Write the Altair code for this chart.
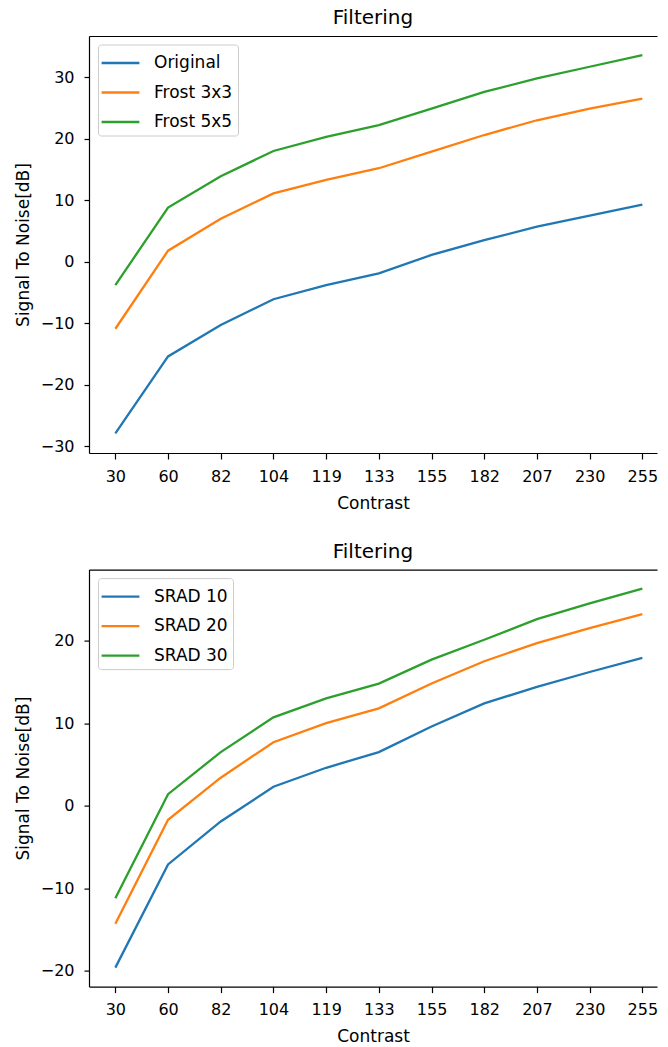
import altair as alt
import pandas as pd

contrast = [30, 60, 82, 104, 119, 133, 155, 182, 207, 230, 255]

# top panel
top_names = ["Original", "Frost 3x3", "Frost 5x5"]
original = [-27.9, -15.4, -10.3, -6.1, -3.8, -1.9, 1.1, 3.5, 5.7, 7.5, 9.3]
frost3 = [-10.9, 1.8, 7.0, 11.1, 13.3, 15.2, 17.9, 20.6, 23.0, 24.9, 26.5]
frost5 = [-3.8, 8.8, 13.9, 18.0, 20.3, 22.2, 24.9, 27.6, 29.8, 31.7, 33.6]

# bottom panel
bottom_names = ["SRAD 10", "SRAD 20", "SRAD 30"]
srad10 = [-19.6, -7.1, -1.9, 2.3, 4.6, 6.5, 9.6, 12.4, 14.4, 16.2, 17.9]
srad20 = [-14.3, -1.7, 3.4, 7.7, 10.0, 11.8, 14.8, 17.5, 19.7, 21.5, 23.2]
srad30 = [-11.2, 1.4, 6.5, 10.7, 13.0, 14.8, 17.7, 20.1, 22.6, 24.5, 26.3]

colors = ["#1f77b4", "#ff7f0e", "#2ca02c"]
top_ticks = [-30, -20, -10, 0, 10, 20, 30]
bottom_ticks = [-20, -10, 0, 10, 20]

FONT = "DejaVu Sans"
PLOT_W = 568
PLOT_H = 417
X_DOMAIN = [-0.5, 10.278]

# categorical positions: one slot per contrast level (as matplotlib does)
label_expr = "[" + ",".join("'%d'" % c for c in contrast) + "][datum.value]"


def make_df(names, series):
    rows = []
    for n, vals in zip(names, series):
        for i, (c, v) in enumerate(zip(contrast, vals)):
            rows.append({"slot": i, "Contrast": c, "SNR": v, "Series": n})
    return pd.DataFrame(rows)


def panel(df, names, ydomain, yticks):
    xscale = alt.Scale(domain=X_DOMAIN, nice=False, zero=False)
    yscale = alt.Scale(domain=ydomain, nice=False, zero=False)
    lines = (
        alt.Chart(df)
        .mark_line(strokeWidth=2.3)
        .encode(
            x=alt.X(
                "slot:Q",
                scale=xscale,
                axis=alt.Axis(title="Contrast", orient="bottom",
                              values=list(range(len(contrast))),
                              labelExpr=label_expr, labelAngle=0, tickSize=6,
                              labelPadding=9, titlePadding=11, labelFlush=False),
            ),
            y=alt.Y(
                "SNR:Q",
                scale=yscale,
                axis=alt.Axis(title="Signal To Noise[dB]", values=yticks,
                              tickSize=5, labelPadding=10, titlePadding=8),
            ),
            color=alt.Color(
                "Series:N",
                sort=names,
                scale=alt.Scale(domain=names, range=colors),
                legend=alt.Legend(title=None, orient="none", legendX=9, legendY=8.5),
            ),
            order="slot:Q",
        )
    )
    # top spine of the frame, drawn as a bare top axis (invisible rules carry it)
    frame_top = (
        alt.Chart(df)
        .mark_rule(opacity=0)
        .encode(
            x=alt.X("slot:Q", scale=xscale,
                    axis=alt.Axis(orient="top", labels=False, ticks=False,
                                  title=None, domain=True)),
        )
    )
    return (
        alt.layer(lines, frame_top)
        .resolve_scale(x="independent")
        .resolve_axis(x="independent")
        .properties(
            width=PLOT_W,
            height=PLOT_H,
            title=alt.TitleParams(
                "Filtering", fontSize=20, fontWeight="normal", font=FONT,
                color="black", anchor="middle", offset=8,
            ),
        )
    )


top = panel(make_df(top_names, [original, frost3, frost5]), top_names, [-31.1, 36.7], top_ticks)
bottom = panel(make_df(bottom_names, [srad10, srad20, srad30]), bottom_names, [-21.9, 28.6], bottom_ticks)

chart = (
    alt.vconcat(top, bottom, spacing=30.6)
    .resolve_scale(color="independent")
    .resolve_legend(color="independent")
    .properties(padding={"left": 6, "top": 0, "right": 0, "bottom": 0})
    .configure_view(stroke=None)
    .configure_axis(
        grid=False,
        domainColor="black",
        domainWidth=1.2,
        tickColor="black",
        tickWidth=1.2,
        labelColor="black",
        titleColor="black",
        labelFont=FONT,
        titleFont=FONT,
        labelFontSize=16,
        titleFontSize=17,
        titleFontWeight="normal",
    )
    .configure_legend(
        symbolType="M-1.575,0H1.575",
        symbolSize=576,
        symbolStrokeWidth=2.3,
        symbolOffset=4,
        labelFont=FONT,
        labelFontSize=17,
        labelColor="black",
        labelOffset=20,
        rowPadding=7.5,
        padding=5,
        strokeColor="#cccccc",
        fillColor="white",
        cornerRadius=3,
    )
)

chart.save("out.html", embed_options={"renderer": "svg", "actions": False})
